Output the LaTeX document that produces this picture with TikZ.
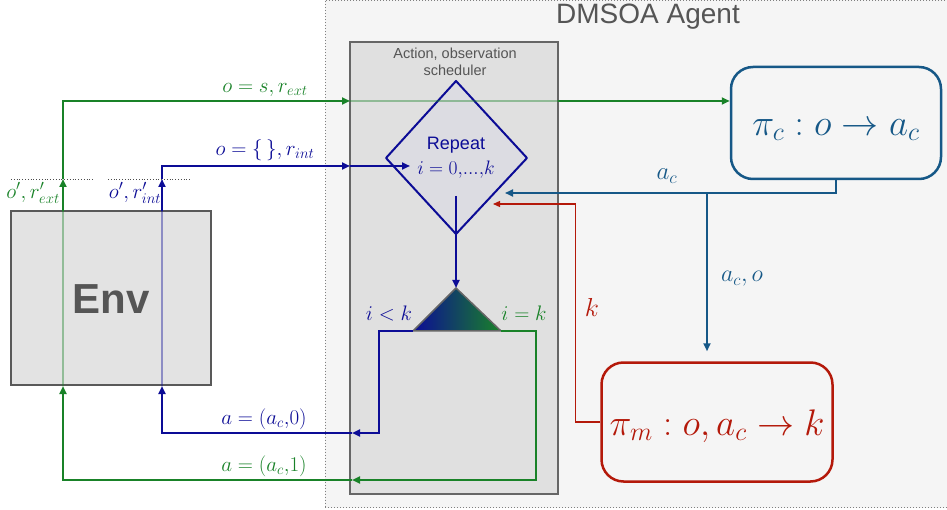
\RequirePackage{fix-cm}
\documentclass[tikz,border=0pt]{standalone}
\usepackage{fontspec}
\setsansfont{Liberation Sans}
\usetikzlibrary{arrows.meta,shapes.geometric}
\definecolor{cgreen}{RGB}{25,130,40}
\definecolor{cnavy}{RGB}{12,12,150}
\definecolor{csteel}{RGB}{22,88,135}
\definecolor{cred}{RGB}{180,25,10}
\definecolor{cgtxt}{RGB}{85,85,85}
\definecolor{agentbg}{RGB}{245,245,245}
\definecolor{schedbg}{RGB}{224,224,224}
\definecolor{envbg}{RGB}{227,227,227}
\definecolor{diabg}{RGB}{220,220,226}
\begin{document}
\begin{tikzpicture}[x=1pt,y=-1pt,
  >={Triangle[length=8pt,width=7pt]},
  gconn/.style={draw=cgreen,line width=2pt},
  bconn/.style={draw=cnavy,line width=2pt},
  sconn/.style={draw=csteel,line width=1.8pt},
  rconn/.style={draw=cred,line width=1.3pt,>={Triangle[length=7pt,width=6pt]}},
  faded/.style={opacity=0.4},
  lbl/.style={inner sep=1pt,font=\fontsize{21}{24}\selectfont},
  big/.style={inner sep=0pt,font=\fontsize{37}{44}\selectfont}]
\useasboundingbox (0,0) rectangle (947,510);
\fill[white] (0,0) rectangle (947,510);
% agent region
\node[draw=gray,dotted,line width=1pt,fill=agentbg,minimum width=622pt,minimum height=507pt,inner sep=0pt] (agent) at (636,254) {};
\node[text=cgtxt,font=\sffamily\fontsize{28}{32}\selectfont] (title) at (648,17) {DMSOA Agent};
% scheduler
\node[draw=black!60,line width=1.5pt,fill=schedbg,minimum width=208pt,minimum height=452pt,inner sep=0pt] (sch) at (454,268) {};
\node[text=cgtxt,align=center,font=\sffamily\fontsize{14.5}{16.5}\selectfont] (schtitle) at (455,62) {Action, observation\\scheduler};
% env
\node[draw=black!65,line width=2.5pt,fill=envbg,minimum width=200pt,minimum height=174pt,inner sep=0pt] (env) at (111,298) {};
\node[text=cgtxt,font=\sffamily\bfseries\fontsize{42}{48}\selectfont] (envt) at (111,299) {Env};
% diamond
\coordinate (dT) at (456,81);
\coordinate (dR) at (527,158);
\coordinate (dB) at (456,234);
\coordinate (dL) at (386,158);
\draw[cnavy,fill=diabg,line width=2pt,line join=round] (dT) -- (dR) -- (dB) -- (dL) -- cycle;
\node[text=cnavy,font=\sffamily\fontsize{18}{20}\selectfont] (rep) at (456,145) {Repeat};
\node[text=cnavy,font=\fontsize{19.5}{22}\selectfont] (reprange) at (456,170) {$i=0,\!...,\!k$};
% triangle
\coordinate (tA) at (456,288);
\coordinate (tL) at (413,331);
\coordinate (tR) at (501,331);
\shade[left color=cnavy,right color=cgreen] (tA) -- (tL) -- (tR) -- cycle;
\draw[black!60,line width=1.5pt,line join=round] (tA) -- (tL) -- (tR) -- cycle;
\coordinate (dIn) at (456,196);
\draw[bconn,->] (dIn) -- (tA);
% policy boxes
\node[draw=csteel,line width=2.5pt,rounded corners=22pt,minimum width=210pt,minimum height=112pt,inner sep=0pt] (pic) at (836,123) {};
\node[big,text=csteel] (pict) at (836,130) {$\pi_c:o\rightarrow a_c$};
\node[draw=cred,line width=2.5pt,rounded corners=22pt,minimum width=231pt,minimum height=119pt,inner sep=0pt] (pim) at (717,422) {};
\node[big,text=cred] (pimt) at (717,426) {$\pi_m:o,a_c\rightarrow k$};
% coordinates
\coordinate (gIn) at (352,480);
\coordinate (eG) at (63,386);
\coordinate (eGt) at (63,211);
\coordinate (gOut) at (63,179);
\coordinate (sG) at (350,101);
\coordinate (sGe) at (558,101);
\coordinate (bIn) at (352,433);
\coordinate (eB) at (162,386);
\coordinate (eBt) at (162,211);
\coordinate (bOut) at (162,179);
\coordinate (sB) at (350,166);
\coordinate (dInB) at (410,166);
\coordinate (sJ) at (707,193);
\coordinate (dInS) at (505,193);
\coordinate (dInR) at (493,204);
% green loop
\draw[gconn,->] (tR) -- (536,331) -- (536,480) -- (gIn);
\draw[gconn,->] (gIn) -- (63,480) -- (eG);
\draw[gconn,faded] (eG) -- (eGt);
\draw[gconn,->] (eGt) -- (gOut);
\draw[gconn,->] (gOut) -- (63,101) -- (sG);
\draw[gconn,faded] (sG) -- (sGe);
\draw[gconn,->] (sGe) -- (pic.west |- sGe);
% blue loop
\draw[bconn,->] (tL) -- (379,331) -- (379,433) -- (bIn);
\draw[bconn,->] (bIn) -- (162,433) -- (eB);
\draw[bconn,faded] (eB) -- (eBt);
\draw[bconn,->] (eBt) -- (bOut);
\draw[bconn,->] (bOut) -- (162,166) -- (sB);
\draw[bconn,->] (sB) -- (dInB);
% steel
\draw[sconn,->] (pic.south) -- (pic.south |- sJ) -- (dInS);
\draw[sconn,->,shorten >=10pt] (sJ) -- (sJ |- pim.north);
% red
\draw[rconn,->] (pim.west) -- ++(-25,0) |- (dInR);
% dotted marks
\draw[black!70,dotted,line width=0.8pt] (11,179) -- (93,179);
\draw[black!70,dotted,line width=0.8pt] (108,179) -- (190,179);
% labels
\node[lbl,text=cgreen] (l1) at (265,90) {$o=s,r_{ext}$};
\node[lbl,text=cnavy] (l2) at (265,150) {$o=\{\,\},r_{int}$};
\node[lbl,text=cgreen] (l3) at (33,193) {$o',r'_{ext}$};
\node[lbl,text=cnavy] (l4) at (135,193) {$o',r'_{int}$};
\node[lbl,text=cnavy] (l5) at (264,419) {$a=(a_c{,}0)$};
\node[lbl,text=cgreen] (l6) at (264,466) {$a=(a_c{,}1)$};
\node[lbl,text=cnavy] (l7) at (389,313) {$i<k$};
\node[lbl,text=cgreen] (l8) at (524,313) {$i=k$};
\node[lbl,text=csteel,font=\fontsize{25}{28}\selectfont] (l9) at (667,176) {$a_c$};
\node[lbl,text=csteel,font=\fontsize{24}{28}\selectfont] (l10) at (742,279) {$a_c,o$};
\node[lbl,text=cred,font=\fontsize{26}{28}\selectfont] (l11) at (592,307) {$k$};
\end{tikzpicture}
\end{document}
